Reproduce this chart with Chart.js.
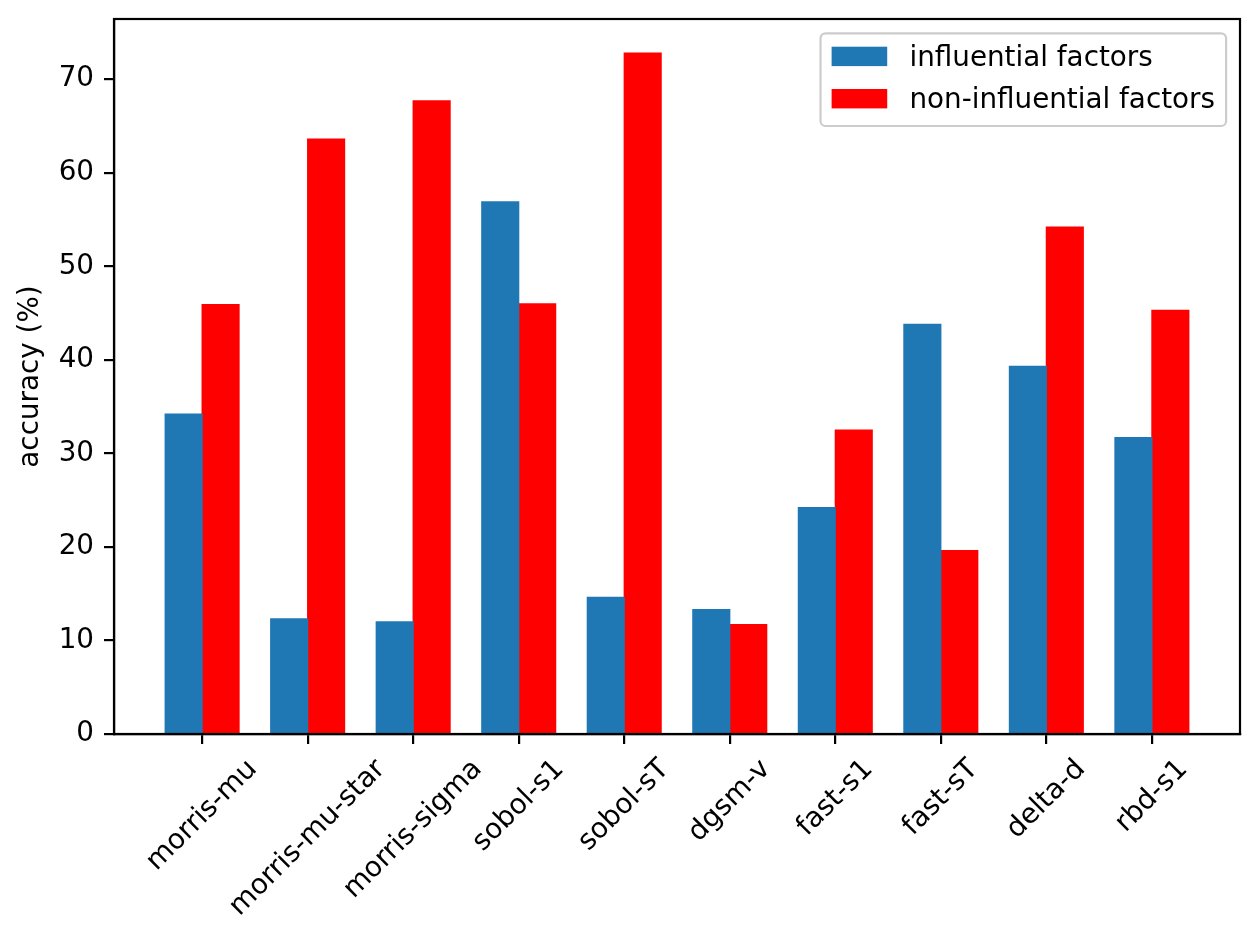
<!DOCTYPE html>
<html>
<head>
<meta charset="utf-8">
<script src="https://cdn.jsdelivr.net/npm/chart.js@4.4.0/dist/chart.umd.min.js"></script>
<style>
  html, body { margin: 0; padding: 0; background: #fff; }
  canvas { display: block; }
</style>
</head>
<body>
<canvas id="chart" width="1260" height="940"></canvas>
<script>
const categories = ["morris-mu", "morris-mu-star", "morris-sigma", "sobol-s1", "sobol-sT",
  "dgsm-v", "fast-s1", "fast-sT", "delta-d", "rbd-s1"];
const influential = [34.2, 12.3, 12.0, 56.9, 14.6, 13.3, 24.2, 43.8, 39.3, 31.7];
const nonInfluential = [45.9, 63.6, 67.7, 46.0, 72.8, 11.7, 32.5, 19.6, 54.2, 45.3];
const yTicks = [0, 10, 20, 30, 40, 50, 60, 70];
const seriesNames = ["influential factors", "non-influential factors"];
const seriesColors = ["#1f77b4", "#ff0000"];

const FONT = "'DejaVu Sans', sans-serif";
const FS = 27.8;
const LW = 2.2;

Chart.defaults.font.family = FONT;
Chart.defaults.font.size = FS;
Chart.defaults.color = "#000";

// rotated x labels, centred under each tick like matplotlib's rotation=45
const xLabels = {
  id: "xLabels",
  afterDraw(chart) {
    const ctx = chart.ctx;
    const xs = chart.scales.x;
    const top = chart.chartArea.bottom + 19.4;
    ctx.save();
    ctx.font = `${FS}px ${FONT}`;
    ctx.fillStyle = "#000";
    ctx.textAlign = "center";
    ctx.textBaseline = "middle";
    categories.forEach((name, i) => {
      const w = ctx.measureText(name).width;
      const half = (w + FS * 1.165) * Math.SQRT1_2 / 2;
      ctx.save();
      ctx.translate(xs.getPixelForValue(i), top + half);
      ctx.rotate(-Math.PI / 4);
      ctx.fillText(name, 0, 0);
      ctx.restore();
    });
    ctx.restore();
  }
};

// axes box on top of the bars
const frame = {
  id: "frame",
  afterDatasetsDraw(chart) {
    const { ctx, chartArea: a } = chart;
    ctx.save();
    ctx.strokeStyle = "#000";
    ctx.lineWidth = LW;
    ctx.strokeRect(a.left, a.top, a.right - a.left, a.bottom - a.top);
    ctx.restore();
  }
};

// legend box in the upper right corner of the plot
const boxLegend = {
  id: "boxLegend",
  afterDraw(chart) {
    const { ctx, chartArea: a } = chart;
    ctx.save();
    ctx.font = `${FS}px ${FONT}`;
    const tw = Math.max(...chart.data.datasets.map((d) => ctx.measureText(d.label).width));
    const w = 11.1 + 55.6 + 22.2 + tw + 11.1;
    const h = 92.7;
    const x = a.right - 13.9 - w;
    const y = a.top + 14.3;
    ctx.beginPath();
    ctx.roundRect(x, y, w, h, 5);
    ctx.fillStyle = "rgba(255,255,255,0.8)";
    ctx.fill();
    ctx.strokeStyle = "#cccccc";
    ctx.lineWidth = 2.2;
    ctx.stroke();
    chart.data.datasets.forEach((d, i) => {
      const py = y + 13.4 + i * 42.3;
      ctx.fillStyle = d.backgroundColor;
      ctx.fillRect(x + 11.1, py, 55.6, 19.4);
      ctx.fillStyle = "#000";
      ctx.textAlign = "left";
      ctx.textBaseline = "alphabetic";
      ctx.fillText(d.label, x + 11.1 + 55.6 + 22.2, py + 19);
    });
    ctx.restore();
  }
};

const ctx = document.getElementById("chart").getContext("2d");

new Chart(ctx, {
  type: "bar",
  data: {
    datasets: [
      {
        label: seriesNames[0],
        data: categories.map((_, i) => ({ x: i, y: influential[i] })),
        backgroundColor: seriesColors[0],
        borderWidth: 0,
        inflateAmount: 0.6,
      },
      {
        label: seriesNames[1],
        data: categories.map((_, i) => ({ x: i, y: nonInfluential[i] })),
        backgroundColor: seriesColors[1],
        borderWidth: 0,
        inflateAmount: 0.6,
      },
    ],
  },
  options: {
    responsive: false,
    animation: false,
    devicePixelRatio: 1,
    layout: { padding: { top: 19, right: 20, left: 0, bottom: 0 } },
    categoryPercentage: 0.7,
    barPercentage: 1.0,
    plugins: {
      legend: { display: false },
      tooltip: { enabled: false },
    },
    scales: {
      x: {
        type: "linear",
        offset: false,
        min: -0.835,
        max: 9.835,
        afterBuildTicks: (axis) => {
          axis.ticks = categories.map((_, i) => ({ value: i }));
        },
        afterFit: (axis) => {
          axis.height = 206;
          axis.paddingLeft = 0;
          axis.paddingRight = 0;
        },
        ticks: { display: false },
        grid: {
          display: true,
          offset: false,
          drawOnChartArea: false,
          drawTicks: true,
          tickLength: 10,
          color: "#000",
          lineWidth: LW,
        },
        border: { display: true, color: "#000", width: LW },
      },
      y: {
        min: 0,
        max: 76.44,
        afterBuildTicks: (axis) => {
          axis.ticks = yTicks.map((v) => ({ value: v }));
        },
        afterFit: (axis) => {
          axis.width = 114;
          axis.paddingTop = 0;
          axis.paddingBottom = 0;
        },
        ticks: { padding: 10, color: "#000", font: { size: FS } },
        grid: {
          display: true,
          drawOnChartArea: false,
          drawTicks: true,
          tickLength: 10,
          color: "#000",
          lineWidth: LW,
        },
        border: { display: true, color: "#000", width: LW },
        title: {
          display: true,
          text: "accuracy (%)",
          color: "#000",
          font: { size: FS },
          padding: { top: 14, bottom: 0 },
        },
      },
    },
  },
  plugins: [frame, xLabels, boxLegend],
});
</script>
</body>
</html>
